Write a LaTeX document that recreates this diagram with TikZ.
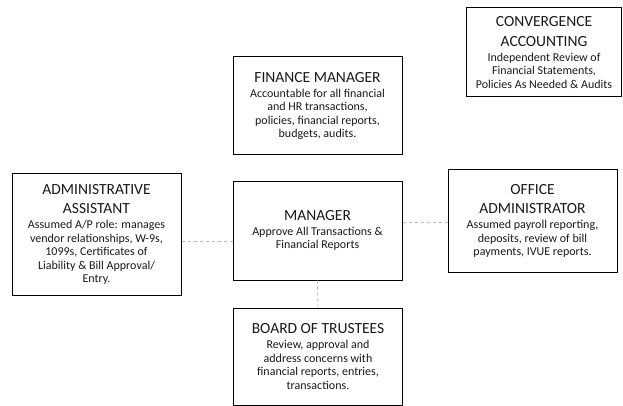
\documentclass[tikz,border=0pt]{standalone}
\usepackage{fontspec}
\setmainfont{Carlito}
\usetikzlibrary{positioning}

\begin{document}
\begin{tikzpicture}[x=1pt,y=-1pt,
    role/.style={draw,line width=1pt,rectangle,minimum width=169pt,align=center,
      font=\fontsize{12}{13.5}\selectfont,text=black!90}]
  \useasboundingbox (0,0) rectangle (623,406);
  % boxes
  \node (fin) [role,minimum height=98pt] at (317.5,106)
    {{\fontsize{15.5}{18}\selectfont FINANCE MANAGER}\\[1.5pt]
     Accountable for all financial\\ and HR transactions,\\
     policies, financial reports,\\ budgets, audits.};
  \node (conv) [role,minimum width=155pt,minimum height=89pt] at (544,52.5)
    {{\fontsize{15.5}{18}\selectfont CONVERGENCE}\\[6pt]
     {\fontsize{15.5}{18}\selectfont ACCOUNTING}\\[1.5pt]
     Independent Review of\\ Financial Statements,\\
     Policies As Needed \& Audits};
  \node (admin) [role,minimum height=121pt] at (96.5,234.5)
    {{\fontsize{15.5}{18}\selectfont ADMINISTRATIVE}\\[6pt]
     {\fontsize{15.5}{18}\selectfont ASSISTANT}\\[1.5pt]
     Assumed A/P role: manages\\ vendor relationships, W-9s,\\
     1099s, Certificates of\\ Liability \& Bill Approval/\\ Entry.};
  \node (mgr) [role,minimum height=99pt] at (317.5,230.5)
    {{\fontsize{15.5}{18}\selectfont MANAGER}\\[1.5pt]
     Approve All Transactions \&\\ Financial Reports};
  \node (office) [role,minimum height=102pt] at (532.5,221)
    {{\fontsize{15.5}{18}\selectfont OFFICE}\\[6pt]
     {\fontsize{15.5}{18}\selectfont ADMINISTRATOR}\\[1.5pt]
     Assumed payroll reporting,\\ deposits, review of bill\\
     payments, IVUE reports.};
  \node (board) [role,minimum height=97pt] at (318,356.5)
    {{\fontsize{15.5}{18}\selectfont BOARD OF TRUSTEES}\\[1.5pt]
     Review, approval and\\ address concerns with\\
     financial reports, entries,\\ transactions.};
  % links
  \path[draw=gray!55,dashed,line width=0.8pt]
    (admin.east |- 0,241) edge (mgr.west |- 0,241)
    (mgr.east |- 0,222) edge (office.west |- 0,222)
    (mgr.south) edge (board.north);
\end{tikzpicture}
\end{document}
